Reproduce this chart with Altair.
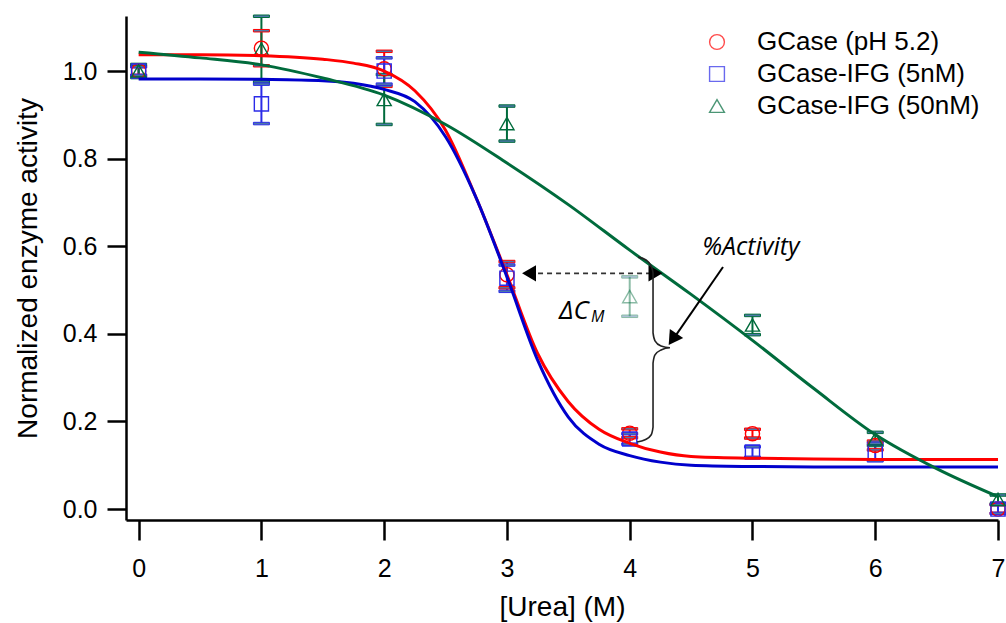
import altair as alt
import pandas as pd

# ---------------- data ----------------
SERIES = ["GCase (pH 5.2)", "GCase-IFG (5nM)", "GCase-IFG (50nM)"]
POINT_COLORS = ["#FF0000", "#2B2BE8", "#006B3C"]
CURVE_COLORS = ["#FF0000", "#0000CC", "#006B3C"]
SHAPES = ["circle", "square", "triangle-up"]

urea = [0, 1, 2, 3, 4, 5, 6, 7]

gcase_y = [1.0, 1.052, 1.005, 0.535, 0.173, 0.172, 0.145, 0.0]
gcase_err = [0.01, 0.04, 0.04, 0.03, 0.01, 0.01, 0.01, 0.01]

ifg5_y = [1.0, 0.925, 1.0, 0.527, 0.16, 0.13, 0.13, 0.0]
ifg5_err = [0.01, 0.045, 0.03, 0.03, 0.012, 0.012, 0.02, 0.01]

ifg50_y = [1.0, 1.05, 0.935, 0.88, 0.485, 0.42, 0.16, 0.022]
ifg50_err = [0.015, 0.075, 0.057, 0.04, 0.045, 0.022, 0.015, 0.01]
ifg50_alpha = [1, 1, 1, 1, 0.45, 1, 1, 1]

# fitted curves
fit_x = [0, 0.5, 1, 1.5, 1.75, 2, 2.25, 2.5, 2.75, 3, 3.25, 3.5, 3.75, 4,
         4.25, 4.5, 5, 5.5, 6, 7]
gcase_fit = [1.037, 1.037, 1.035, 1.027, 1.018, 1.0, 0.955, 0.865, 0.71, 0.535,
             0.355, 0.245, 0.182, 0.15, 0.13, 0.12, 0.116, 0.114, 0.113, 0.113]
ifg5_fit = [0.982, 0.982, 0.981, 0.978, 0.972, 0.958, 0.93, 0.85, 0.71, 0.53,
            0.34, 0.21, 0.148, 0.122, 0.107, 0.10, 0.097, 0.096, 0.096, 0.096]
fit50_x = [0, 0.5, 1, 1.5, 2, 2.5, 3, 3.5, 4, 4.5, 5, 5.5, 6, 6.5, 7]
ifg50_fit = [1.043, 1.03, 1.014, 0.984, 0.945, 0.878, 0.79, 0.695, 0.591, 0.49,
             0.385, 0.275, 0.17, 0.092, 0.028]

# annotations (data units)
dcm_x = [3.18, 4.21]
dcm_y = 0.538
brace_x = [4.068, 4.133, 4.174, 4.19, 4.19, 4.206, 4.255, 4.328, 4.255, 4.206,
           4.19, 4.19, 4.174, 4.125, 4.06]
brace_y = [0.575, 0.5685, 0.555, 0.539, 0.402, 0.384, 0.372, 0.368, 0.363, 0.352,
           0.333, 0.187, 0.169, 0.158, 0.153]
pointer_x = [4.76, 4.377]
pointer_y = [0.5525, 0.397]

# ---------------- tables ----------------
rows = []
for s, ys, es, al in [
    (SERIES[0], gcase_y, gcase_err, [1] * 8),
    (SERIES[1], ifg5_y, ifg5_err, [1] * 8),
    (SERIES[2], ifg50_y, ifg50_err, ifg50_alpha),
]:
    for x, y, e, a in zip(urea, ys, es, al):
        rows.append({"series": s, "sid": s + " ", "x": x, "y": y,
                     "lo": y - e, "hi": y + e, "alpha": a})
pts = pd.DataFrame(rows)
SIDS = [s + " " for s in SERIES]

FONT = "Liberation Sans"
XS = alt.Scale(domain=[-0.103, 7.0], nice=False, zero=False)
YS = alt.Scale(domain=[-0.0251, 1.1256], nice=False, zero=False)

xaxis = alt.Axis(values=urea, format="d", title="[Urea] (M)", grid=False,
                 tickSize=20, tickWidth=2.5, domainWidth=2.5,
                 tickColor="black", domainColor="black", labelColor="black",
                 titleColor="black", labelFont=FONT, titleFont=FONT,
                 labelFontSize=25, titleFontSize=28, titleFontWeight="normal",
                 labelPadding=16, titlePadding=12, labelFlush=False)
yaxis = alt.Axis(values=[0, 0.2, 0.4, 0.6, 0.8, 1.0], format=".1f",
                 title="Normalized enzyme activity", grid=False,
                 tickSize=19, tickWidth=2.5, domainWidth=2.5,
                 tickColor="black", domainColor="black", labelColor="black",
                 titleColor="black", labelFont=FONT, titleFont=FONT,
                 labelFontSize=25, titleFontSize=28, titleFontWeight="normal",
                 labelPadding=10, titlePadding=20, labelFlush=False)

stroke_enc = alt.Stroke("sid:N", scale=alt.Scale(domain=SIDS, range=POINT_COLORS),
                        legend=None)
op_enc = alt.Opacity("alpha:Q", scale=None)

base = alt.Chart(pts)

err_rules = base.mark_rule(strokeWidth=2).encode(
    x=alt.X("x:Q", scale=XS, axis=xaxis),
    y=alt.Y("lo:Q", scale=YS, axis=yaxis),
    y2="hi:Q",
    stroke=stroke_enc,
    opacity=op_enc,
)
caps_lo = base.mark_tick(orient="horizontal", size=16, thickness=2.5).encode(
    x="x:Q", y="lo:Q", stroke=stroke_enc, opacity=op_enc,
)
caps_hi = base.mark_tick(orient="horizontal", size=16, thickness=2.5).encode(
    x="x:Q", y="hi:Q", stroke=stroke_enc, opacity=op_enc,
)
points = base.mark_point(filled=False, size=200, strokeWidth=1.4).encode(
    x="x:Q", y="y:Q",
    color=alt.Color("series:N", scale=alt.Scale(domain=SERIES, range=POINT_COLORS),
                    legend=alt.Legend(orient="none", legendX=578, legendY=13,
                                      title=None, labelFont=FONT, labelFontSize=26,
                                      labelColor="black", labelLimit=500,
                                      symbolSize=220, symbolStrokeWidth=1.4,
                                      labelOffset=27, rowPadding=6, padding=0,
                                      symbolFillColor="transparent")),
    shape=alt.Shape("series:N", scale=alt.Scale(domain=SERIES, range=SHAPES)),
    opacity=op_enc,
)


def curve(xs, ys, color):
    d = pd.DataFrame({"x": xs, "y": ys})
    return alt.Chart(d).mark_line(color=color, strokeWidth=3, interpolate="monotone").encode(
        x="x:Q", y="y:Q")


c_red = curve(fit_x, gcase_fit, CURVE_COLORS[0])
c_blue = curve(fit_x, ifg5_fit, CURVE_COLORS[1])
c_green = curve(fit50_x, ifg50_fit, CURVE_COLORS[2])

# annotations
dcm_df = pd.DataFrame({"x": [dcm_x[0]], "x2": [dcm_x[1]], "y": [dcm_y]})
dashed = alt.Chart(dcm_df).mark_rule(strokeDash=[5, 4], color="#333333", strokeWidth=1.6).encode(
    x="x:Q", x2="x2:Q", y="y:Q")
heads_df = pd.DataFrame({"x": dcm_x, "y": [dcm_y, dcm_y],
                         "shape": ["triangle-left", "triangle-right"]})
heads = alt.Chart(heads_df).mark_point(filled=True, size=260, color="black", opacity=1).encode(
    x="x:Q", y="y:Q", shape=alt.Shape("shape:N", scale=None))

brace_df = pd.DataFrame({"x": brace_x, "y": brace_y, "i": list(range(len(brace_x)))})
brace = alt.Chart(brace_df).mark_line(color="#222222", strokeWidth=1.6,
                                      interpolate="monotone").encode(
    x="x:Q", y="y:Q", order="i:Q")

ptr_df = pd.DataFrame({"x": pointer_x, "y": pointer_y, "i": [0, 1]})
pointer = alt.Chart(ptr_df).mark_line(color="black", strokeWidth=2).encode(
    x="x:Q", y="y:Q", order="i:Q")
ptr_head_df = pd.DataFrame({"x": [4.36], "y": [0.392]})
ptr_head = alt.Chart(ptr_head_df).mark_point(filled=True, shape="triangle", angle=214,
                                            size=260, color="black", opacity=1).encode(
    x="x:Q", y="y:Q")

lab_df = pd.DataFrame({"x": [4.59, 3.424], "y": [0.58, 0.434],
                       "t": ["%Activity", "\u0394C"], "fs": [25, 26]})
labels = alt.Chart(lab_df).mark_text(align="left", baseline="alphabetic", font="Open Sans",
                                     fontStyle="italic", color="black").encode(
    x="x:Q", y="y:Q", text="t:N", size=alt.Size("fs:Q", scale=None))
sub_df = pd.DataFrame({"x": [3.685], "y": [0.427], "t": ["M"]})
sub = alt.Chart(sub_df).mark_text(align="left", baseline="alphabetic", font="Open Sans",
                                  fontStyle="italic", fontSize=16, color="black").encode(
    x="x:Q", y="y:Q", text="t:N")

chart = alt.layer(
    err_rules, caps_lo, caps_hi, points, c_red, c_blue, c_green,
    dashed, heads, brace, pointer, ptr_head, labels, sub,
).properties(
    width=872, height=504,
    autosize=alt.AutoSizeParams(type="none"),
    padding={"left": 126, "top": 16, "right": 8, "bottom": 103},
    background="white",
).configure_view(stroke=None)

chart.save("out.html", embed_options={"renderer": "svg", "actions": False})
